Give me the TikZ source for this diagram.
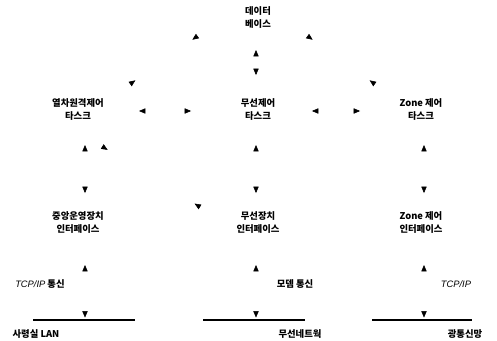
\documentclass[tikz,border=0pt]{standalone}
\usepackage{fontspec}
\setmainfont{Noto Sans CJK KR}
\newfontfamily\latinfont{Liberation Sans}
\usetikzlibrary{arrows.meta,decorations.markings}
\begin{document}
\begin{tikzpicture}[x=0.75pt,y=-0.75pt,
  >={Triangle[length=4.8pt,width=4pt]},
  lbl/.style={align=center,inner sep=0pt,font=\bfseries\fontsize{7}{9.75}\selectfont},
  sub/.style={inner sep=0pt,font=\bfseries\fontsize{7}{9}\selectfont},
  bus/.style={line width=1pt},
  outw/.style 2 args={postaction={decorate},decoration={markings,
      mark=at position #1 with {\arrowreversed{>}},
      mark=at position #2 with {\arrow{>}}}},
  inw/.style 2 args={postaction={decorate},decoration={markings,
      mark=at position #1 with {\arrow{>}},
      mark=at position #2 with {\arrowreversed{>}}}}]
\useasboundingbox (0,0) rectangle (497,341);

% nodes
\node[lbl] (db) at (258,18) {데이터\\베이스};
\node[lbl] (t1) at (78,110) {열차원격제어\\타스크};
\node[lbl] (t2) at (258,110) {무선제어\\타스크};
\node[lbl] (t3) at (421,110) {Zone 제어\\타스크};
\node[lbl] (i1) at (78,223) {중앙운영장치\\인터페이스};
\node[lbl] (i2) at (258,223) {무선장치\\인터페이스};
\node[lbl] (i3) at (421,223) {Zone 제어\\인터페이스};

\node[sub,anchor=west] (l1) at (15,284) {{\mdseries\latinfont\itshape TCP/IP} 통신};
\node[sub] (l2) at (295,284) {모뎀 통신};
\node[sub] (l3) at (456,284) {\mdseries\latinfont\itshape TCP/IP};

\node[sub] (n1) at (36,334) {사령실 LAN};
\node[sub] (n2) at (300,334) {무선네트웍};
\node[sub] (n3) at (465,334) {광통신망};

% bus lines
\coordinate (b1l) at (33,320);  \coordinate (b1r) at (135,320);
\coordinate (b2l) at (203,320); \coordinate (b2r) at (305,320);
\coordinate (b3l) at (372,320); \coordinate (b3r) at (472,320);
\coordinate (c1) at (85,320);
\coordinate (c2) at (256,320);
\coordinate (c3) at (424,320);
\draw[bus] (b1l) -- (b1r);
\draw[bus] (b2l) -- (b2r);
\draw[bus] (b3l) -- (b3r);

% database links
\path[outw={0.348}{0.62}] ([shift={(-2,0)}]db.center) -- ([shift={(-2,0)}]t2.center);
\path[inw={0.146}{0.753}] ([shift={(-52,12)}]db.center) -- ([shift={(34,-13)}]t1.center);
\path[inw={0.146}{0.753}] ([shift={(41,12)}]db.center) -- ([shift={(-28,-13)}]t3.center);

% task links
\path[outw={0.339}{0.628}] ([shift={(0,1)}]t1.center) -- ([shift={(0,1)}]t2.center);
\path[outw={0.331}{0.626}] ([shift={(0,1)}]t2.center) -- ([shift={(0,1)}]t3.center);

% task to interface
\path[outw={0.31}{0.735}] ([shift={(7,0)}]t1.center) -- ([shift={(7,0)}]i1.center);
\path[outw={0.31}{0.735}] ([shift={(-2,0)}]t2.center) -- ([shift={(-2,0)}]i2.center);
\path[outw={0.31}{0.735}] ([shift={(3,0)}]t3.center) -- ([shift={(3,0)}]i3.center);
\path[inw={0.234}{0.866}] ([shift={(-2.5,20)}]t1.center) -- ([shift={(-45,-8)}]i2.center);

% interface to network
\path[outw={0.433}{0.975}] ([shift={(7,0)}]i1.center) -- (c1);
\path[outw={0.433}{0.975}] ([shift={(-2,0)}]i2.center) -- (c2);
\path[outw={0.433}{0.975}] ([shift={(3,0)}]i3.center) -- (c3);
\end{tikzpicture}
\end{document}
